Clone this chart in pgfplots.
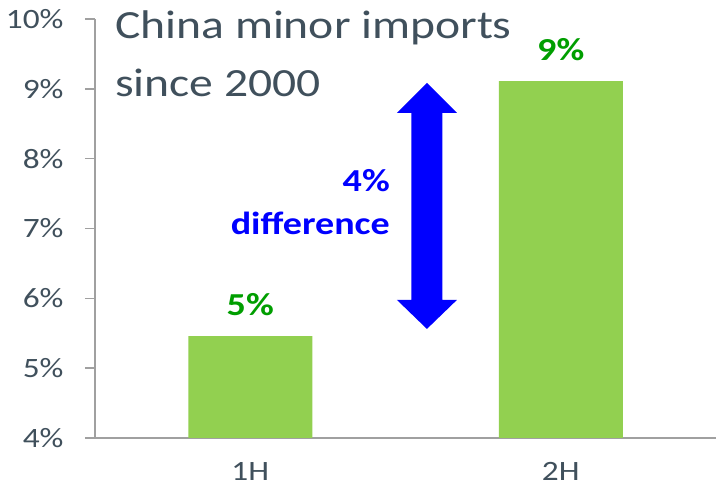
\documentclass[border=0pt]{standalone}
\usepackage{pgfplots}
\pgfplotsset{compat=1.18}
\usepackage{fontspec}
\setmainfont{Carlito}[FakeStretch=1.19]
\definecolor{txt}{RGB}{64,80,92}
\definecolor{axgray}{RGB}{160,160,160}
\definecolor{bargreen}{RGB}{146,208,80}
\definecolor{lblgreen}{RGB}{0,158,0}
\definecolor{arrblue}{RGB}{0,0,255}
\begin{document}
\begin{tikzpicture}
\useasboundingbox (0,0) rectangle (716bp,492bp);
\begin{axis}[
  at={(95bp,54bp)}, anchor=south west,
  scale only axis, width=621bp, height=419bp,
  xmin=-0.5, xmax=1.5, ymin=4, ymax=10,
  axis lines*=left,
  axis line style={axgray, line width=1.5bp},
  /pgf/number format/assume math mode=true,
  ytick={4,5,...,10},
  yticklabel={\pgfmathprintnumber{\tick}\%},
  xtick={0,1}, xticklabels={1H,2H},
  minor xtick={-0.5,0.5,1.5},
  major tick length=10bp, minor tick length=10bp,
  tick align=outside,
  xtick style={draw=none},
  minor x tick style={axgray, line width=1.5bp},
  ytick style={axgray, line width=1.5bp},
  ticklabel style={text=txt, font=\fontsize{28bp}{33bp}\selectfont},
  xticklabel style={yshift=-11bp},
  yticklabel style={xshift=-18bp},
  clip=false,
  ybar, bar width=124bp,
  nodes near coords={\pgfmathprintnumber[fixed,precision=0]{\pgfplotspointmeta}\%},
  every node near coord/.append style={anchor=base, yshift=21bp, inner sep=0pt, text=lblgreen, font=\fontsize{32bp}{38bp}\selectfont\bfseries},
]
\addplot[fill=bargreen, draw=none] coordinates {(0,5.46) (1,9.11)};
\fill[arrblue] (axis cs:0.569,9.086) -- (axis cs:0.6656,8.656) -- (axis cs:0.619,8.656)
  -- (axis cs:0.619,5.977) -- (axis cs:0.6656,5.977) -- (axis cs:0.569,5.562)
  -- (axis cs:0.4724,5.977) -- (axis cs:0.519,5.977) -- (axis cs:0.519,8.656)
  -- (axis cs:0.4724,8.656) -- cycle;
\node[anchor=base east, inner sep=0pt, text=arrblue, font=\fontsize{32bp}{38bp}\selectfont\bfseries] at (axis cs:0.450,7.524) {4\%};
\node[anchor=base east, inner sep=0pt, text=arrblue, font=\fontsize{32bp}{38bp}\selectfont\bfseries] at (axis cs:0.450,6.908) {difference};
\end{axis}
\node[anchor=base west, inner sep=0pt, text=txt, font=\fontsize{40bp}{48bp}\selectfont] at (115bp,453bp) {China minor imports};
\node[anchor=base west, inner sep=0pt, text=txt, font=\fontsize{40bp}{48bp}\selectfont] at (115bp,395bp) {since 2000};
\end{tikzpicture}
\end{document}
